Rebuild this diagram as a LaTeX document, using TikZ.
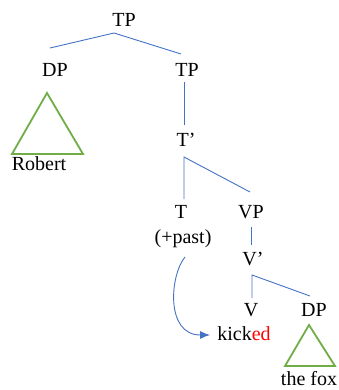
\documentclass[tikz,border=0pt]{standalone}
\usepackage{fontspec}
\setmainfont{Liberation Serif}
\newfontfamily\treefont{Liberation Serif}
\usetikzlibrary{arrows.meta}
\definecolor{branch}{HTML}{4472C4}
\definecolor{leafgreen}{HTML}{70AD47}
\definecolor{suffix}{HTML}{FF0000}
\begin{document}
\begin{tikzpicture}[x=1pt,y=-1pt,
  lbl/.style={inner sep=0pt,anchor=base,font=\treefont\fontsize{20}{22}\selectfont},
  branchline/.style={draw=branch,line width=0.9pt},
  roof/.style={draw=leafgreen,line width=1.8pt,line join=miter},
  movearrow/.style={draw=branch,line width=0.9pt,-{Latex[length=10pt,width=8pt]}}]
\useasboundingbox (0,0) rectangle (338,390);

% labels
\node[lbl] (tp)     at (124,26.5)  {TP};
\node[lbl] (dp)     at (55,76.7)   {DP};
\node[lbl] (tpb)    at (187,76.7)  {TP};
\node[lbl] (tbar)   at (186,146.5) {T’};
\node[lbl] (t)      at (181,218)   {T};
\node[lbl] (past)   at (183,243.5) {(+past)};
\node[lbl] (vp)     at (251,218)   {VP};
\node[lbl] (vbar)   at (253,265.5) {V’};
\node[lbl] (v)      at (251,316.5) {V};
\node[lbl] (dpb)    at (314,316.5) {DP};
\node[lbl] (kicked) at (244,340.5) {kick\textcolor{suffix}{ed}};
\node[lbl] (robert) at (39,170)    {Robert};
\node[lbl] (fox)    at (309,385.5) {the fox};

% branch end points
\coordinate (tpApex)   at (114,33);
\coordinate (dpTop)    at (50,48);
\coordinate (tpbTop)   at (181,54);
\coordinate (tpbFoot)  at (184,82);
\coordinate (tbarTop)  at (184,125);
\coordinate (tbarApex) at (184,157);
\coordinate (tTop)     at (184,199);
\coordinate (vpTop)    at (250,192);
\coordinate (vpFoot)   at (251,227);
\coordinate (vbarTop)  at (251,245);
\coordinate (vbarApex) at (252,275);
\coordinate (vTop)     at (252,298);
\coordinate (dpbTop)   at (310,296);

% tree branches
\draw[branchline] (dpTop) -- (tpApex) -- (tpbTop);
\draw[branchline] (tpbFoot) -- (tbarTop);
\draw[branchline] (tTop) -- (tbarApex) -- (vpTop);
\draw[branchline] (vpFoot) -- (vbarTop);
\draw[branchline] (vTop) -- (vbarApex) -- (dpbTop);

% roofs over unanalysed phrases
\coordinate (r1a) at (47,93);
\coordinate (r1b) at (12,154);
\coordinate (r1c) at (83,154);
\draw[roof] (r1a) -- (r1b) -- (r1c) -- cycle;
\coordinate (r2a) at (309,325);
\coordinate (r2b) at (285,366);
\coordinate (r2c) at (335,366);
\draw[roof] (r2a) -- (r2b) -- (r2c) -- cycle;

% lowering of tense onto the verb
\coordinate (moveStart) at (185,257);
\coordinate (moveEnd)   at (210,335);
\draw[movearrow] (moveStart) .. controls (170,275) and (165,335) .. (moveEnd);
\end{tikzpicture}
\end{document}
